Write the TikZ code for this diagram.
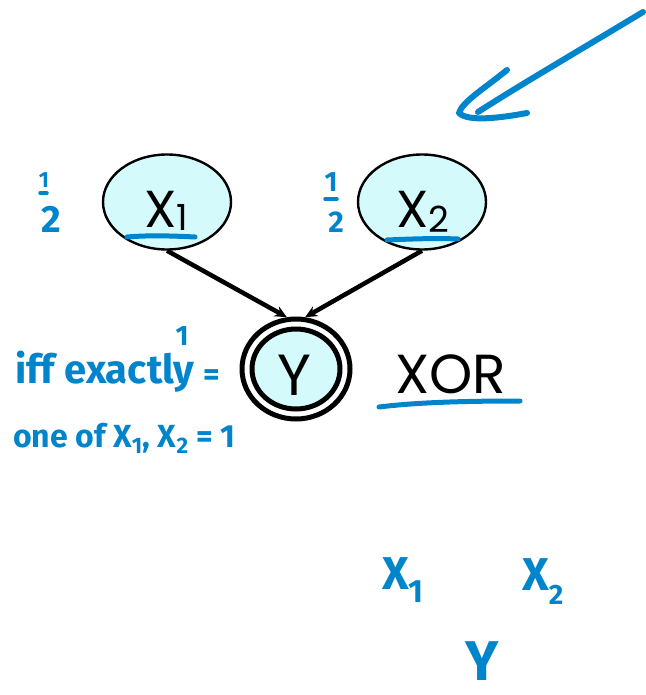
\documentclass[tikz,border=0pt]{standalone}
\usepackage{fontspec}
\setmainfont{Poppins}
\newfontfamily\hand{Fira Sans}
\usetikzlibrary{shapes.geometric,arrows.meta}
\definecolor{hblue}{RGB}{0,132,204}
\definecolor{ncyan}{RGB}{212,250,252}
\begin{document}
\begin{tikzpicture}[x=1pt,y=-1pt,
  varnode/.style={ellipse,draw=black,fill=ncyan,line width=2.4pt,inner sep=0pt,minimum width=128pt,minimum height=95pt},
  lbl/.style={font=\fontsize{52}{54}\selectfont,text=black,inner sep=0pt,anchor=base},
  arr/.style={line width=4.5pt,-{Stealth[length=12pt,width=11pt]}},
  hw/.style={draw=hblue,line width=5pt,line cap=round,line join=round},
  hand/.style={text=hblue,inner sep=0pt,font=\hand\bfseries\fontsize{#1}{#1}\selectfont},
]
\useasboundingbox (0,0) rectangle (645,695);

% nodes
\node[varnode] (x1) at (167,202) {};
\node[varnode] (x2) at (422,202) {};
\node[lbl] (x1l) at (166,227) {X\raisebox{-3pt}{\fontsize{36}{36}\selectfont 1}};
\node[lbl] (x2l) at (423,227) {X\raisebox{-5pt}{\fontsize{36}{36}\selectfont 2}};

\node[ellipse,draw=black,line width=5pt,fill=white,minimum width=108pt,minimum height=100pt,inner sep=0pt] (y) at (296,369) {};
\node[ellipse,draw=black,line width=5pt,fill=ncyan,minimum width=88pt,minimum height=80pt,inner sep=0pt] (yi) at (y) {};
\node[lbl,font=\fontsize{58}{60}\selectfont] (yl) at (294,395) {Y};

\node[lbl,anchor=base west,font=\fontsize{55}{57}\selectfont] (xor) at (395,393) {XOR};

% connectors
\draw[arr] (x1.south) -- (y.100);
\draw[arr] (x2.south) -- (y.80);

% blue annotations
\draw[hw] (127,237) .. controls (150,235) and (175,236) .. (195,237);
\draw[hw] (387,240) .. controls (410,239) and (435,238) .. (458,239);
\draw[hw] (379,407) .. controls (420,402) and (470,401) .. (520,401);

\node[hand=22] (f1n) at (44,180) {1};
\draw[hw,line width=3.5pt] (40,193) -- (47,193);
\node[hand=38] (f1d) at (51,219) {2};

\node[hand=28] (f2n) at (331,182) {1};
\draw[hw,line width=3.5pt] (325,199) -- (337,199);
\node[hand=30] (f2d) at (336,222) {2};

\node[hand=40,anchor=base west] (hw1) at (15,383) {iff exactly};
\node[hand=28] (hw1a) at (182,336) {1};
\node[hand=32] (hw1b) at (212,378) {=};
\node[hand=32,anchor=base west] (hw2) at (13,447) {one of X\textsubscript{1}, X\textsubscript{2} = 1};

\node[hand=46,anchor=base west] (b1) at (382,589) {X\textsubscript{1}};
\node[hand=46,anchor=base west] (b2) at (522,590) {X\raisebox{-14pt}{\fontsize{28}{28}\selectfont 2}};
\node[hand=56,anchor=base] (b3) at (482,680) {Y};

\draw[hw,line width=6pt] (643,12) .. controls (580,50) and (520,85) .. (478,112);
\draw[hw,line width=6pt] (507,70) .. controls (485,88) and (462,102) .. (459,113) .. controls (468,122) and (500,118) .. (527,113);
\end{tikzpicture}
\end{document}
